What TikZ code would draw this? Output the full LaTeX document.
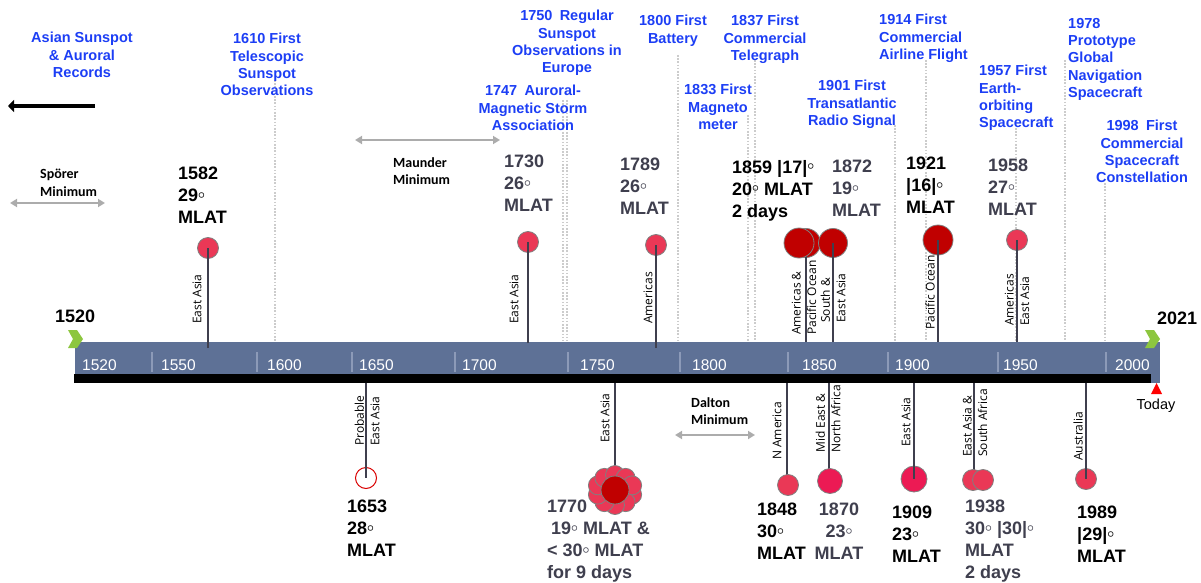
\documentclass[tikz,border=0pt]{standalone}
\usepackage{fontspec}
\setmainfont{Liberation Sans}
\newfontfamily\regionfont{Open Sans}
\newfontfamily\minfont{Carlito}
\usetikzlibrary{arrows.meta}

\definecolor{barblue}{RGB}{94,113,150}
\definecolor{tickline}{RGB}{140,154,184}
\definecolor{chevron}{RGB}{141,198,63}
\definecolor{eventblue}{RGB}{28,62,245}
\definecolor{darkred}{RGB}{192,0,0}
\definecolor{stormpink}{RGB}{234,56,86}
\definecolor{stormrose}{RGB}{236,26,84}
\definecolor{slate}{RGB}{63,63,78}

\newcommand{\degr}{\raisebox{0.2em}{\fontsize{13}{13}\selectfont\boldmath$\circ$}}

\begin{document}
\begin{tikzpicture}[x=1pt, y=-1pt,
  dot/.style={circle, draw=gray, line width=0.8pt, inner sep=0pt, minimum size=21pt, fill=stormpink},
  stem/.style={slate, line width=1.3pt},
  guide/.style={gray!40, line width=1.6pt, dash pattern=on 1.6pt off 1.6pt},
  span/.style={{Triangle[length=7pt,width=8pt]}-{Triangle[length=7pt,width=8pt]}, gray!65, line width=2pt},
  tick/.style={anchor=west, inner sep=0pt, text=white, font=\fontsize{15.5}{18}\selectfont},
  year/.style={anchor=north west, align=left, inner sep=0pt, font=\bfseries\fontsize{18}{22}\selectfont},
  gyear/.style={year, text=slate},
  event/.style={anchor=north, align=center, inner sep=0pt, text=eventblue, font=\bfseries\fontsize{14.5}{17.3}\selectfont},
  levent/.style={event, anchor=north west, align=left},
  region/.style={rotate=90, anchor=west, align=left, inner sep=0pt, font=\regionfont\fontsize{12}{15.5}\selectfont},
  minlab/.style={anchor=north west, align=left, inner sep=0pt, font=\minfont\bfseries\fontsize{14}{17.5}\selectfont}]

  \useasboundingbox (0,0) rectangle (1201,583);

  % Dotted guides from technology milestones down to the bar
  \foreach \x/\yt in {275/80, 563/100, 567/100, 678/55, 748/115, 755/60,
                      895/125, 926/60, 1016/128, 1065/60, 1105/183}
    \draw[guide] (\x,\yt) -- (\x,341);

  % Timeline bar
  \fill[barblue] (75,342) rectangle (1160,383);
  \fill[black] (74,374) rectangle (1151,383);
  \foreach \x in {152,257,352,455,568,680,788,888,998,1106}
    \draw[tickline, line width=1.5pt] (\x,352) -- (\x,372);
  \foreach \x/\yr in {82/1520, 161/1550, 267/1600, 359/1650, 462/1700, 580/1750,
                      692/1800, 802/1850, 895/1900, 1003/1950, 1115/2000}
    \node[tick] (tick\yr) at (\x,365) {\yr};

  % Start and end markers
  \fill[chevron] (68,330) -- (77,330) -- (83,339) -- (77,348) -- (68,348) -- (73,339) -- cycle;
  \fill[chevron] (1145,330) -- (1154,330) -- (1160,339) -- (1154,348) -- (1145,348) -- (1150,339) -- cycle;
  \node[year] (start) at (55,310) {1520};
  \node[year] (end) at (1157,312) {2021};
  \fill[red] (1151,394) -- (1162,394) -- (1156.5,383) -- cycle;
  \node[anchor=north, inner sep=0pt, font=\fontsize{14.5}{17}\selectfont] (today) at (1156,399) {Today};

  % Earlier records
  \coordinate (pastR) at (95,106);
  \coordinate (pastL) at (8,106);
  \draw[line width=4pt, -{Triangle[length=6pt,width=12pt]}] (pastR) -- (pastL);

  % Solar minima
  \coordinate (sporerL) at (10,203);  \coordinate (sporerR) at (105,203);
  \coordinate (maunderL) at (355,140); \coordinate (maunderR) at (500,140);
  \coordinate (daltonL) at (675,435);  \coordinate (daltonR) at (755,435);
  \draw[span] (sporerL) -- (sporerR);
  \draw[span] (maunderL) -- (maunderR);
  \draw[span] (daltonL) -- (daltonR);
  \node[minlab] (sporer) at (40,169) {Spörer\\Minimum};
  \node[minlab] (maunder) at (393,157) {Maunder\\Minimum};
  \node[minlab] (dalton) at (691,397) {Dalton\\Minimum};

  % Milestones (blue)
  \node[event] (asian) at (82,32) {Asian Sunspot\\\& Auroral\\Records};
  \node[event] (scope1610) at (267,33) {1610 First\\Telescopic\\Sunspot\\Observations};
  \node[event] (regular) at (567,10) {1750\enspace Regular\\Sunspot\\Observations in\\Europe};
  \node[event] (auroral) at (533,85) {1747\enspace Auroral-\\Magnetic Storm\\Association};
  \node[event] (battery) at (673,15) {1800 First\\Battery};
  \node[event] (magneto) at (718,84) {1833 First\\Magneto\\meter};
  \node[event] (telegraph) at (765,15) {1837 First\\Commercial\\Telegraph};
  \node[event] (radio) at (852,80) {1901 First\\Transatlantic\\Radio Signal};
  \node[levent] (airline) at (879,14) {1914 First\\Commercial\\Airline Flight};
  \node[levent] (orbit) at (979,65) {1957 First\\Earth-\\orbiting\\Spacecraft};
  \node[levent] (gnss) at (1068,18) {1978\\Prototype\\Global\\Navigation\\Spacecraft};
  \node[event] (constell) at (1142,120) {1998\enspace First\\Commercial\\Spacecraft\\Constellation};

  % Storm anchors on the bar
  \foreach \n/\x/\y in {1582/208/348, 1730/528/343, 1789/656/348, 1859/806/342,
                        1872/833/342, 1921/938/342, 1958/1017/342,
                        1653/366/383, 1770/615/383, 1848/787/383, 1870/829/383,
                        1909/914/383, 1938/974/383, 1989/1086/383}
    \coordinate (b\n) at (\x,\y);
  \coordinate (f1770) at (615,466);

  % Stems that run behind the circles
  \draw[stem] (b1770) -- (f1770);

  % Storms above the bar
  \node[dot] (c1582) at (208,248) {};
  \node[dot] (c1730) at (528,242) {};
  \node[dot] (c1789) at (656,245) {};
  \node[dot, fill=darkred, minimum size=29pt] (c1859b) at (806,243) {};
  \draw[stem] (c1859b.center) -- (b1859);
  \node[dot, fill=darkred, minimum size=30pt] (c1859) at (799,243) {};
  \node[dot, fill=darkred, minimum size=29pt] (c1872) at (833,243) {};
  \node[dot, fill=darkred, minimum size=30pt] (c1921) at (938,240) {};
  \node[dot] (c1958) at (1017,240) {};

  % Storms below the bar
  \node[dot, draw=red!85!black, fill=white, line width=1pt] (c1653) at (366,478) {};
  \foreach \a in {18,54,...,342}
    \node[dot, minimum size=19pt] (p\a) at ({615+18*cos(\a)},{490+15*sin(\a)}) {};
  \node[dot, fill=darkred, minimum size=28pt] (c1770) at (615,490) {};
  \draw[stem] (b1848) -- (b1848 |- 0,475);
  \draw[stem] (b1870) -- (b1870 |- 0,469);
  \draw[stem] (b1938) -- (b1938 |- 0,471);
  \node[dot] (c1848) at (788,485) {};
  \node[dot, fill=stormrose, minimum size=25pt] (c1870) at (830,481) {};
  \node[dot, fill=stormrose, minimum size=26pt] (c1909) at (914,479) {};
  \node[dot] (c1938) at (973,480) {};
  \node[dot] (c1938b) at (983,480) {};
  \node[dot] (c1989) at (1086,479) {};

  % Stems on top of the circles
  \foreach \n in {1582,1730,1789,1872,1921,1958,1653,1909,1989}
    \draw[stem] (b\n) -- (c\n.center);

  % Regions
  \node[region] (r1582) at (197,324) {East Asia};
  \node[region] (r1730) at (514,324) {East Asia};
  \node[region] (r1789) at (648,324) {Americas};
  \node[region] (r1859) at (804,335) {Americas \&\\Pacific Ocean};
  \node[region] (r1872) at (833,323) {South \&\\East Asia};
  \node[region] (r1921) at (930,330) {Pacific Ocean};
  \node[region] (r1958) at (1017,326) {Americas\\East Asia};
  \node[region] (r1653) at (367,446) {Probable\\East Asia};
  \node[region] (r1770) at (605,443) {East Asia};
  \node[region] (r1848) at (777,460) {N America};
  \node[region] (r1870) at (828,453) {Mid East \&\\North Africa};
  \node[region] (r1909) at (906,447) {East Asia};
  \node[region] (r1938) at (975,457) {East Asia \&\\South Africa};
  \node[region] (r1989) at (1078,461) {Australia};

  % Storm latitudes
  \node[year] (l1582) at (178,167) {1582\\29\degr\\MLAT};
  \node[gyear] (l1730) at (504,155) {1730\\26\degr\\MLAT};
  \node[gyear] (l1789) at (620,158) {1789\\26\degr\\MLAT};
  \node[year] (l1859) at (732,160) {1859 |17|\degr\\20\degr{} MLAT\\2 days};
  \node[gyear] (l1872) at (832,160) {1872\\19\degr\\MLAT};
  \node[year] (l1921) at (906,157) {1921\\|16|\degr\\MLAT};
  \node[gyear] (l1958) at (988,159) {1958\\27\degr\\MLAT};
  \node[year] (l1653) at (347,500) {1653\\28\degr\\MLAT};
  \node[gyear] (l1770) at (547,500) {1770\\\hspace{4pt}19\degr{} MLAT \&\\< 30\degr{} MLAT\\for 9 days};
  \node[year] (l1848) at (757,503) {1848\\30\degr\\MLAT};
  \node[gyear, anchor=north, align=center] (l1870) at (839,503) {1870\\23\degr\\MLAT};
  \node[year] (l1909) at (892,506) {1909\\23\degr\\MLAT};
  \node[gyear] (l1938) at (965,500) {1938\\30\degr{} |30|\degr\\MLAT\\2 days};
  \node[year] (l1989) at (1077,506) {1989\\|29|\degr\\MLAT};

\end{tikzpicture}
\end{document}
